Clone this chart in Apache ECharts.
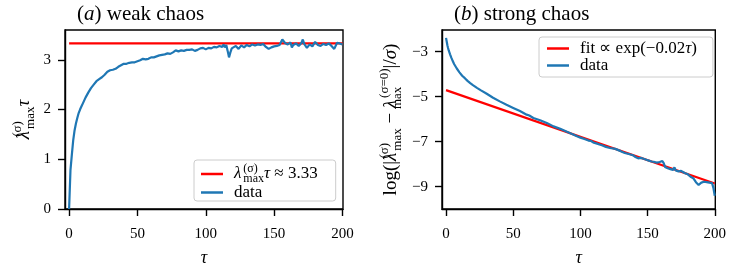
<!DOCTYPE html>
<html><head><meta charset="utf-8">
<script src="https://cdn.jsdelivr.net/npm/echarts@6/dist/echarts.min.js"></script>
<style>html,body{margin:0;padding:0;background:#fff}#c{width:729px;height:274px}</style>
</head><body><div id="c"></div>
<script>
// ---- data ----
const tauA = [0,1,2,3,4,5,6,7,8,9,10,12,14,16,18,20,22,24,26,28,30,32,34,36,38,40,42,44,46,48,50,52,54,56,58,60,62,64,66,68,70,72,74,76,78,80,82,84,86,88,90,92,94,96,98,100,102,104,106,108,110,112,113,114,115,116,117,118,119,120,122,124,126,128,130,132,134,136,138,140,142,144,146,148,150,152,154,156,158,160,162,163,164,166,168,170,171,172,174,176,178,180,182,184,186,188,190,192,194,196,198,200];
const valA = [0,0.78,1.09,1.38,1.58,1.72,1.83,1.93,2.00,2.06,2.12,2.24,2.34,2.43,2.50,2.57,2.61,2.65,2.70,2.76,2.79,2.80,2.82,2.86,2.89,2.92,2.92,2.94,2.95,2.95,2.97,2.99,3.02,3.01,3.02,3.05,3.05,3.07,3.09,3.10,3.11,3.13,3.12,3.15,3.19,3.17,3.19,3.18,3.20,3.20,3.21,3.18,3.20,3.23,3.24,3.21,3.24,3.23,3.26,3.25,3.28,3.26,3.31,3.25,3.30,3.18,3.05,3.15,3.23,3.20,3.28,3.22,3.29,3.25,3.30,3.27,3.31,3.29,3.31,3.30,3.32,3.26,3.22,3.25,3.27,3.28,3.30,3.41,3.34,3.31,3.35,3.25,3.30,3.33,3.28,3.34,3.41,3.32,3.24,3.31,3.27,3.36,3.30,3.28,3.32,3.30,3.33,3.28,3.22,3.34,3.33,3.31];
const fitTauA = [0,200];
const fitValA = [3.33,3.33];

const tauB = [0,0.5,1,1.5,2,3,4,5,6,7,8,10,12,14,16,18,20,23,26,30,35,40,45,50,55,60,62,65,70,75,80,85,90,95,97,100,103,106,108,110,113,116,119,122,126,130,133,136,139,141,143,145,147,149,151,153,155,157,159,160,161,162,163,164,165,166,167,168,169,170,171,172,173,174,175,176,178,180,182,184,186,188,189,190,192,194,196,198,199,200];
const valB = [-2.39,-2.55,-2.72,-2.84,-2.95,-3.12,-3.28,-3.42,-3.55,-3.65,-3.75,-3.92,-4.07,-4.18,-4.30,-4.40,-4.49,-4.61,-4.72,-4.86,-5.05,-5.21,-5.36,-5.50,-5.64,-5.80,-5.84,-5.95,-6.05,-6.17,-6.32,-6.43,-6.56,-6.69,-6.75,-6.82,-6.88,-6.95,-6.97,-7.05,-7.10,-7.16,-7.23,-7.28,-7.32,-7.42,-7.50,-7.55,-7.60,-7.68,-7.74,-7.72,-7.76,-7.80,-7.84,-7.88,-7.90,-7.93,-7.90,-7.84,-7.86,-7.95,-8.12,-8.10,-8.18,-8.10,-8.22,-8.15,-8.26,-8.14,-8.28,-8.20,-8.32,-8.24,-8.30,-8.35,-8.40,-8.45,-8.56,-8.62,-8.80,-8.92,-8.88,-8.82,-8.78,-8.80,-8.82,-8.84,-9.05,-9.40];
const fitTauB = [0,200];
const fitValB = [-4.71,-8.86];

const xTicks = [0,50,100,150,200];
const yTicksA = [0,1,2,3];
const yTicksB = [-3,-5,-7,-9];

// ---- chart ----
const F = 'Liberation Serif';
const BLUE = '#1f77b4', RED = '#ff0000';
const zip = (a,b) => a.map((v,i)=>[v,b[i]]);
const fmt = v => v < 0 ? '\u2212' + Math.abs(v) : String(v);

function rich(base, lh){
  const s = Math.round(base*0.68), sl = Math.round(base*0.6);
  const common = {fontFamily:F,color:'#000',fontWeight:'normal'};
  return {
    n:Object.assign({fontSize:base,lineHeight:lh},common),
    i:Object.assign({fontSize:base,fontStyle:'italic',lineHeight:lh},common),
    sp:Object.assign({fontSize:base,width:6,lineHeight:lh},common),
    k:Object.assign({fontSize:base,width:2,lineHeight:lh},common),
    sup0:Object.assign({fontSize:s,width:0.01,verticalAlign:'top',lineHeight:sl},common),
    sub0:Object.assign({fontSize:s,width:0.01,verticalAlign:'bottom',lineHeight:sl},common),
    sub:Object.assign({fontSize:s,verticalAlign:'bottom',lineHeight:sl},common),
    sup:Object.assign({fontSize:s,verticalAlign:'top',lineHeight:sl},common)
  };
}

function xAxis(gi){
  return {
    type:'value', gridIndex:gi, min:-3, max:200.4,
    axisLine:{show:true,onZero:false,lineStyle:{color:'#000',width:1.4}},
    axisTick:{show:true,customValues:xTicks,length:7,inside:false,lineStyle:{color:'#000',width:1.4}},
    axisLabel:{customValues:xTicks,margin:18,fontFamily:F,fontSize:15,color:'#000',formatter:fmt},
    splitLine:{show:false},
    name:'{i|τ}', nameLocation:'middle', nameGap:39,
    nameTextStyle:{rich:rich(18,20)}
  };
}
function yAxis(gi,min,max,ticks,name,gap){
  return {
    type:'value', gridIndex:gi, min:min, max:max,
    axisLine:{show:true,onZero:false,lineStyle:{color:'#000',width:1.4}},
    axisTick:{show:true,customValues:ticks,length:7,lineStyle:{color:'#000',width:1.4}},
    axisLabel:{customValues:ticks,margin:14,fontFamily:F,fontSize:15,color:'#000',formatter:fmt},
    splitLine:{show:false},
    name:name, nameLocation:'middle', nameGap:gap, nameRotate:90,
    nameTextStyle:{rich:rich(19,26)}
  };
}

const legendText = {
  lamA:'{sp| }{i|λ}{k| }{sup0|(σ)}{sub|max}{i|τ}{n| ≈ 3.33}',
  dataA:'{sp| }{n|data}',
  fitB:'{sp| }{n|fit ∝ exp(−0.02}{i|τ}{n|)}',
  dataB:'{sp| }{n|data}'
};

const option = {
  animation:false,
  backgroundColor:'#fff',
  title:[
    {text:'{n|(}{i|a}{n|) weak chaos}',left:77,top:3,padding:0,textStyle:{fontWeight:'normal',rich:rich(21,22)}},
    {text:'{n|(}{i|b}{n|) strong chaos}',left:454,top:3,padding:0,textStyle:{fontWeight:'normal',rich:rich(21,22)}}
  ],
  grid:[
    {left:65,top:30,width:278,height:179,show:true,borderColor:'#000',borderWidth:1.4,backgroundColor:'transparent'},
    {left:442,top:30,width:280,height:179,show:true,borderColor:'#000',borderWidth:1.4,backgroundColor:'transparent'}
  ],
  xAxis:[xAxis(0),xAxis(1)],
  yAxis:[
    yAxis(0,0,3.6,yTicksA,'{i|λ}{k| }{sup0|(σ)}{sub|max}{i|τ}',28),
    yAxis(1,-9.99,-2.04,yTicksB,'{n|log(|}{i|λ}{k| }{sup0|(σ)}{sub|max}{n| − }{i|λ}{k| }{sub0|max}{sup|(σ=0)}{n||/}{i|σ}{n|)}',38)
  ],
  legend:[
    {left:194,top:160,orient:'vertical',data:['lamA','dataA'],icon:'rect',itemWidth:22,itemHeight:2.5,itemGap:-1,
     padding:[3,18,0,7],borderColor:'#cccccc',borderWidth:1,borderRadius:3,backgroundColor:'rgba(255,255,255,0.8)',
     formatter:n=>legendText[n],textStyle:{rich:rich(17,22)},selectedMode:false},
    {left:539,top:37,orient:'vertical',data:['fitB','dataB'],icon:'rect',itemWidth:22,itemHeight:2.5,itemGap:0,
     padding:[3,16,3,8],borderColor:'#cccccc',borderWidth:1,borderRadius:3,backgroundColor:'rgba(255,255,255,0.8)',
     formatter:n=>legendText[n],textStyle:{rich:rich(17,15)},selectedMode:false}
  ],
  series:[
    {name:'lamA',type:'line',xAxisIndex:0,yAxisIndex:0,data:zip(fitTauA,fitValA),showSymbol:false,lineStyle:{color:RED,width:2.2},itemStyle:{color:RED}},
    {name:'dataA',type:'line',xAxisIndex:0,yAxisIndex:0,data:zip(tauA,valA),showSymbol:false,lineStyle:{color:BLUE,width:2.2},itemStyle:{color:BLUE}},
    {name:'fitB',type:'line',xAxisIndex:1,yAxisIndex:1,data:zip(fitTauB,fitValB),showSymbol:false,lineStyle:{color:RED,width:2.2},itemStyle:{color:RED}},
    {name:'dataB',type:'line',xAxisIndex:1,yAxisIndex:1,data:zip(tauB,valB),showSymbol:false,lineStyle:{color:BLUE,width:2.2},itemStyle:{color:BLUE}}
  ]
};
const chart = echarts.init(document.getElementById('c'),null,{renderer:'canvas'});
chart.setOption(option);
</script>
</body></html>
